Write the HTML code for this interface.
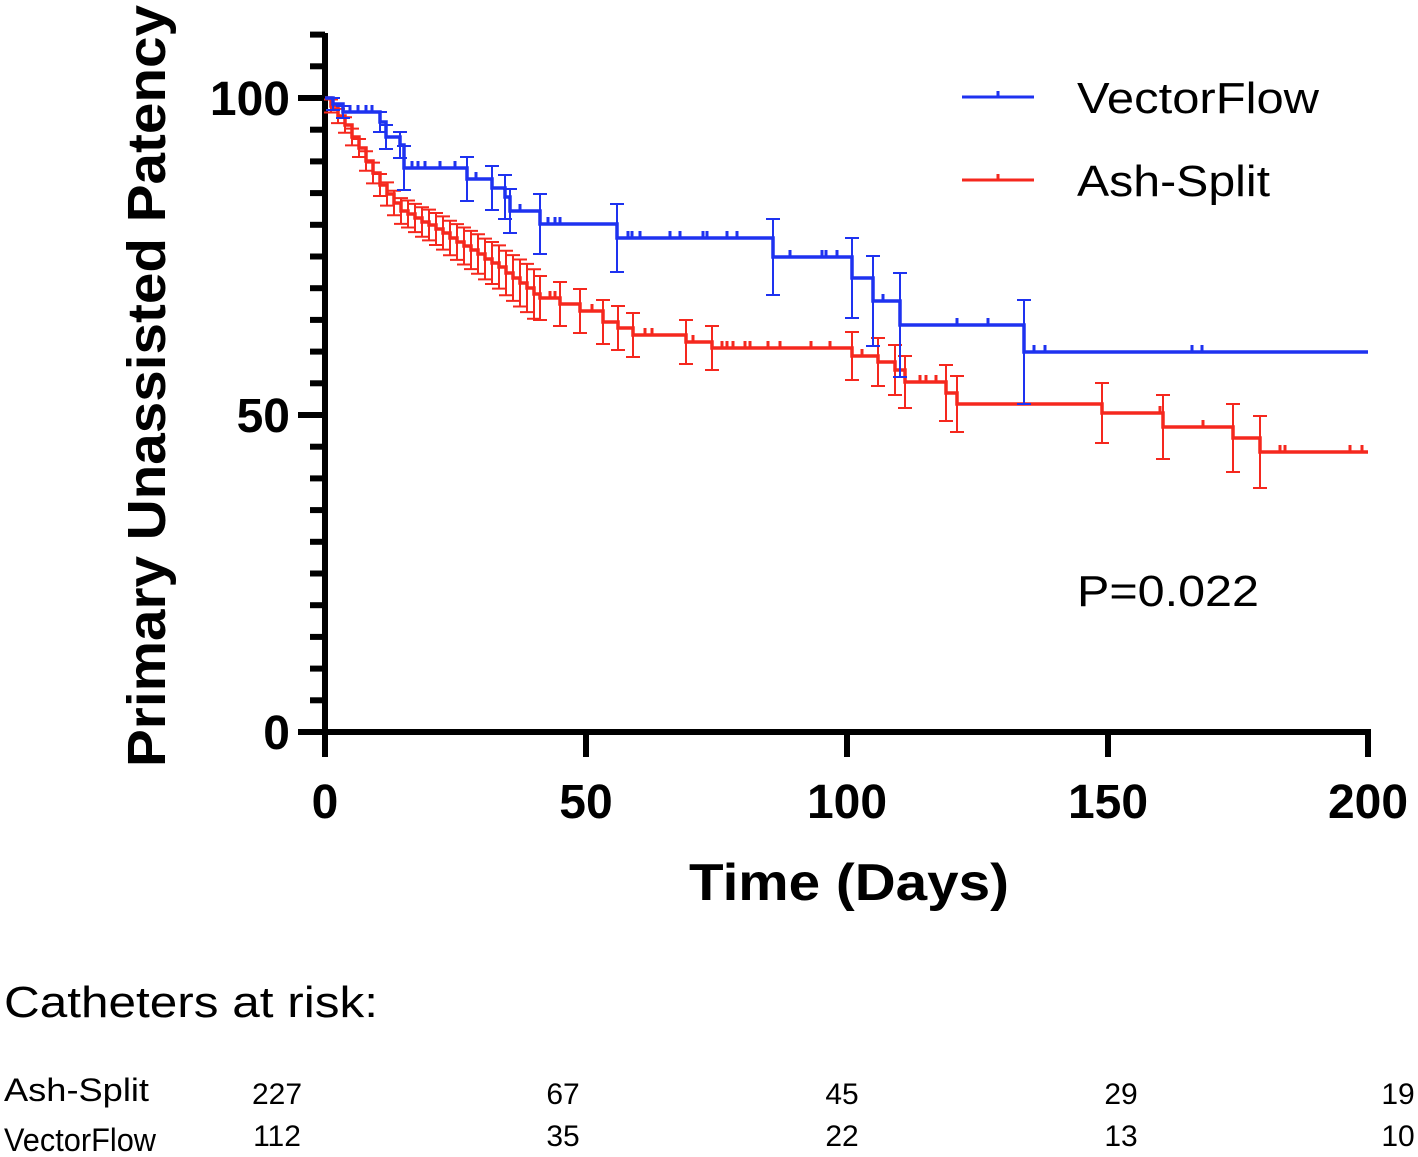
<!DOCTYPE html>
<html><head><meta charset="utf-8"><style>html,body{margin:0;padding:0;background:#fff}svg{display:block}</style></head>
<body>
<svg id="s" width="1418" height="1157" viewBox="0 0 1418 1157" xmlns="http://www.w3.org/2000/svg" font-family="Liberation Sans, Arial, sans-serif">
<g id="axes" stroke="#000" fill="none"></g>
<g id="red" stroke="#f5281e" stroke-width="2" fill="none"></g>
<g id="blue" stroke="#1e32f0" stroke-width="2" fill="none"></g>
<g font-weight="bold" font-size="48" fill="#000">
<text x="290" y="115" text-anchor="end">100</text>
<text x="290" y="432" text-anchor="end">50</text>
<text x="290" y="749" text-anchor="end">0</text>
<text x="325" y="818" text-anchor="middle">0</text>
<text x="586" y="818" text-anchor="middle">50</text>
<text x="847" y="818" text-anchor="middle">100</text>
<text x="1108" y="818" text-anchor="middle">150</text>
<text x="1368" y="818" text-anchor="middle">200</text>
<text x="849" y="900" text-anchor="middle" font-size="52" textLength="320" lengthAdjust="spacingAndGlyphs">Time (Days)</text>
<text transform="translate(165,386) rotate(-90)" text-anchor="middle" font-size="54" textLength="762" lengthAdjust="spacingAndGlyphs">Primary Unassisted Patency</text>
</g>
<g font-size="44" fill="#000">
<line x1="962" y1="97" x2="1034" y2="97" stroke="#1e32f0" stroke-width="3"/><line x1="998" y1="97" x2="998" y2="91" stroke="#1e32f0" stroke-width="3"/>
<line x1="962" y1="180" x2="1034" y2="180" stroke="#f5281e" stroke-width="3"/><line x1="998" y1="180" x2="998" y2="174" stroke="#f5281e" stroke-width="3"/>
<text x="1077" y="113" textLength="242" lengthAdjust="spacingAndGlyphs">VectorFlow</text>
<text x="1077" y="196" textLength="193" lengthAdjust="spacingAndGlyphs">Ash-Split</text>
<text x="1077" y="606" textLength="182" lengthAdjust="spacingAndGlyphs">P=0.022</text>
<text x="4" y="1017" textLength="374" lengthAdjust="spacingAndGlyphs">Catheters at risk:</text>
<g font-size="32">
<text x="4" y="1101" textLength="145" lengthAdjust="spacingAndGlyphs">Ash-Split</text>
<text x="4" y="1151" textLength="152" lengthAdjust="spacingAndGlyphs">VectorFlow</text>
<g text-anchor="middle" font-size="30">
<text x="277" y="1104">227</text><text x="563" y="1104">67</text><text x="842" y="1104">45</text><text x="1121" y="1104">29</text><text x="1398" y="1104">19</text>
<text x="277" y="1146">112</text><text x="563" y="1146">35</text><text x="842" y="1146">22</text><text x="1121" y="1146">13</text><text x="1398" y="1146">10</text>
</g></g></g>
</svg>
<script>
var NS="http://www.w3.org/2000/svg";
function el(g,t,a){var e=document.createElementNS(NS,t);for(var k in a)e.setAttribute(k,a[k]);document.getElementById(g).appendChild(e);return e;}
el("axes","line",{x1:325,y1:33,x2:325,y2:735,"stroke-width":6});
el("axes","line",{x1:322,y1:732,x2:1371,y2:732,"stroke-width":6});
for(var k=0;k<=22;k++){var y=732-k*31.7;var maj=(k%10==0);el("axes","line",{x1:maj?298:310,y1:y,x2:325,y2:y,"stroke-width":6});}
[325,586,847,1108,1368].forEach(function(x){el("axes","line",{x1:x,y1:732,x2:x,y2:757,"stroke-width":6});});
function curve(g,pts,bars,cens){
 var d="M"+pts[0][0]+","+pts[0][1];
 for(var i=1;i<pts.length;i++){d+=" H"+pts[i][0]+" V"+pts[i][1];}
 d+=" H"+pts[pts.length-1][2];
 el(g,"path",{d:d,"stroke-width":3.5});
 bars.forEach(function(b){var x=b[0],y=b[1],h=b[2];
  el(g,"path",{d:"M"+x+","+(y-h)+"V"+(y+h)+"M"+(x-7)+","+(y-h)+"H"+(x+7)+"M"+(x-7)+","+(y+h)+"H"+(x+7),"stroke-width":2});});
 cens.forEach(function(c){el(g,"line",{x1:c[0],y1:c[1],x2:c[0],y2:c[1]-7,"stroke-width":3});});
}
var B=[[325,98],[333,104],[343,112],[380,122],[386,137],[400,145],[404,168],[467,179],[492,188],[505,197],[510,211],[540,224],[617,238],[773,257],[852,278],[873,301],[900,325],[1024,352,1368]];
var bb=[[333,104,6],[343,112,6],[380,122,10],[386,137,12],[400,145,13],[404,168,22],[467,179,22],[492,188,22],[505,197,22],[510,211,22],[540,224,30],[617,238,34],[773,257,38],[852,278,40],[873,301,45],[900,325,52],[1024,352,52]];
var bc=[[350,112],[358,112],[366,112],[372,112],[412,168],[418,168],[425,168],[440,168],[455,168],[476,179],[520,211],[548,224],[555,224],[560,224],[628,238],[632,238],[640,238],[670,238],[680,238],[703,238],[707,238],[727,238],[737,238],[790,257],[822,257],[826,257],[837,257],[883,301],[957,325],[988,325],[1034,352],[1045,352],[1192,352],[1202,352]];
curve("blue",B,bb,bc);
var ctrl=[[325,98],[345,125],[360,150],[380,185],[400,210],[430,226],[463,245],[500,268],[540,298]];
function interp(x){for(var i=1;i<ctrl.length;i++){if(x<=ctrl[i][0]){var a=ctrl[i-1],b=ctrl[i];return a[1]+(b[1]-a[1])*(x-a[0])/(b[0]-a[0]);}}return 298;}
var R=[[325,98]],rb=[],rc=[];
for(var x=331;x<538;x+=7){var y=Math.round(interp(x));R.push([Math.round(x),y]);var h=6+(x-325)*0.09;rb.push([Math.round(x),y,h]);}
var tail=[[540,298],[560,304],[580,311],[603,322],[618,328],[633,335],[686,342],[712,348],[852,356],[878,362],[895,370],[905,382],[946,393],[957,404],[1102,413],[1163,427],[1233,438],[1260,452,1368]];
var th=[22,22,22,22,22,22,22,22,24,24,25,26,28,28,30,32,34,36];
tail.forEach(function(p,i){R.push(p);rb.push([p[0],p[1],th[i]]);});
rc=[[550,298],[555,298],[592,311],[645,335],[652,335],[693,342],[722,348],[727,348],[733,348],[745,348],[750,348],[768,348],[780,348],[811,348],[830,348],[862,356],[920,382],[926,382],[936,382],[1160,413],[1203,427],[1280,452],[1285,452],[1350,452],[1362,452]];
curve("red",R,rb,rc);
</script>
</body></html>
